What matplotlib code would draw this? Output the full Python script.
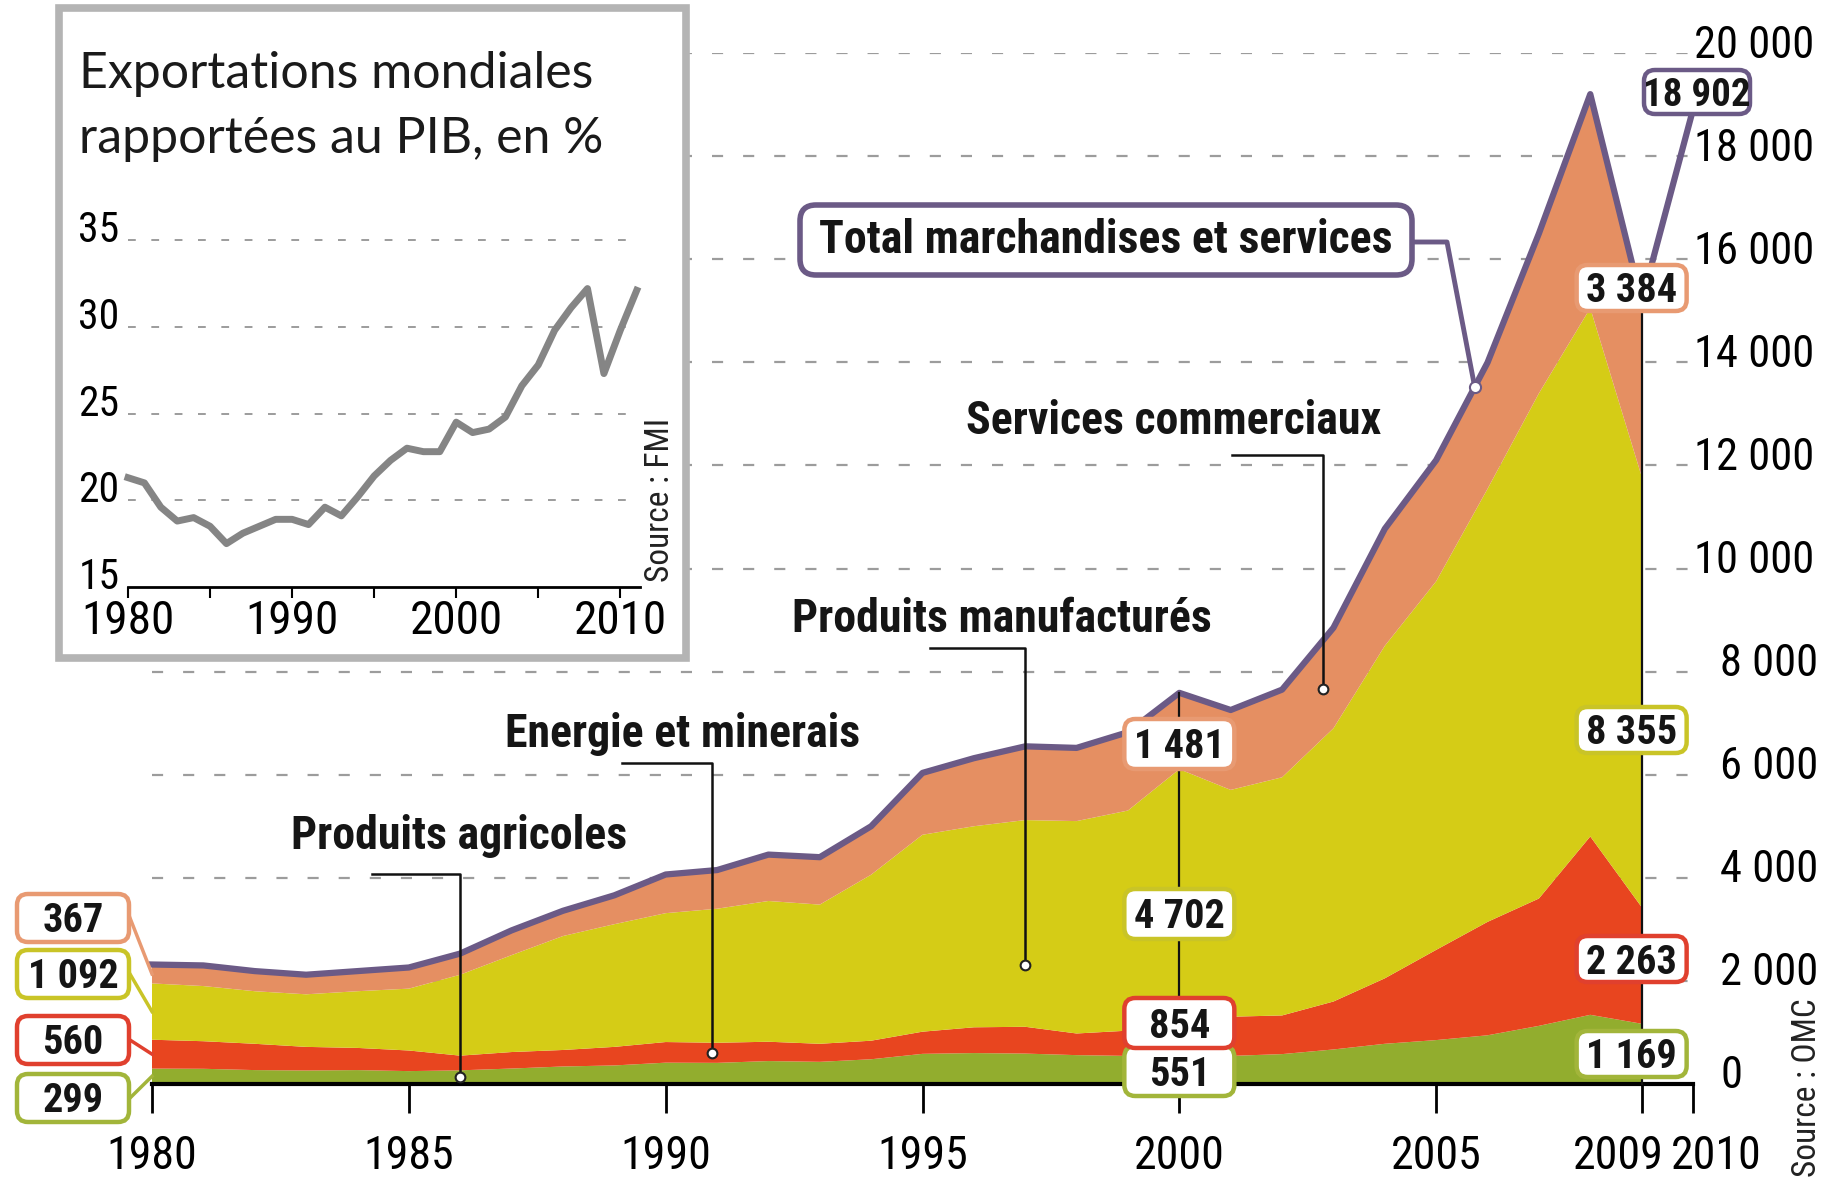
import numpy as np
import matplotlib
matplotlib.use("Agg")
import matplotlib.pyplot as plt
from matplotlib import font_manager as fm
from matplotlib.patches import FancyBboxPatch, Rectangle
from matplotlib.transforms import ScaledTranslation

# ---------------- data ----------------
years = list(range(1980, 2010))
agri = [299, 295, 270, 262, 270, 250, 265, 300, 340, 360, 414, 410, 445, 430, 480,
        585, 600, 590, 560, 545, 551, 545, 580, 670, 780, 852, 945, 1128, 1342, 1169]
energy = [560, 535, 510, 458, 430, 400, 285, 320, 320, 360, 400, 390, 375, 350, 360,
          430, 500, 520, 420, 490, 854, 760, 750, 930, 1270, 1750, 2200, 2470, 3460, 2263]
manu = [1092, 1070, 1020, 1020, 1100, 1200, 1570, 1880, 2210, 2380, 2500, 2600, 2730, 2700, 3220,
        3820, 3900, 4010, 4120, 4270, 4702, 4400, 4620, 5300, 6450, 7150, 8400, 9800, 10250, 8355]
services = [367, 400, 390, 380, 390, 410, 410, 480, 490, 560, 750, 750, 900, 920, 940,
            1200, 1320, 1430, 1420, 1520, 1481, 1550, 1700, 1950, 2270, 2350, 2450, 3100, 4150, 3384]
total_2010 = 18902

x_ticks = [1980, 1985, 1990, 1995, 2000, 2005, 2009, 2010]
y_ticks = list(range(0, 20001, 2000))

pib_years = list(range(1980, 2012))
pib = [21.3, 21.0, 19.6, 18.8, 19.0, 18.5, 17.5, 18.1, 18.5, 18.9, 18.9, 18.6, 19.6, 19.1, 20.2,
       21.4, 22.3, 23.0, 22.8, 22.8, 24.5, 23.9, 24.1, 24.8, 26.6, 27.8, 29.8, 31.1, 32.2, 27.3,
       29.8, 32.1]
pib_yticks = [15, 20, 25, 30, 35]
pib_xlabels = [1980, 1990, 2000, 2010]

# ---------------- fonts ----------------
def pick(cands):
    names = {f.name for f in fm.fontManager.ttflist}
    for c in cands:
        if c in names:
            return c
    return 'DejaVu Sans'

NARROW = pick(['Liberation Sans Narrow', 'Roboto Condensed', 'DejaVu Sans'])
HUMAN = pick(['Lato', 'Open Sans', 'Noto Sans', 'DejaVu Sans'])

W, H = 1822, 1179
fig = plt.figure(figsize=(W / 100, H / 100), dpi=100)
fig.patch.set_facecolor('white')

C_AGRI = '#92ad2e'
C_ENER = '#e8451f'
C_MANU = '#d5cc16'
C_SERV = '#e58f62'
C_TOT = '#6b5a86'
C_GRID = '#9c9c9c'

# ---------------- main axes ----------------
ax = fig.add_axes([152 / W, 1 - 1084 / H, (1693 - 152) / W, (1084 - 53) / H])
ax.set_xlim(1980, 2010)
ax.set_ylim(0, 20000)
for s in ['left', 'right', 'top']:
    ax.spines[s].set_visible(False)
ax.spines['bottom'].set_linewidth(3)
ax.spines['bottom'].set_zorder(6)
ax.set_facecolor('none')

for v in y_ticks[1:]:
    ax.axhline(v, color=C_GRID, lw=1.6, ls=(0, (5, 9)), zorder=0)

ax.stackplot(years, agri, energy, manu, services,
             colors=[C_AGRI, C_ENER, C_MANU, C_SERV], lw=0, zorder=2)
stack_total = np.sum([agri, energy, manu, services], axis=0)
tot_years = years + [2010]
tot_vals = list(stack_total) + [total_2010]
ax.plot(tot_years, tot_vals, color=C_TOT, lw=4.5, zorder=4, solid_joinstyle='round', clip_on=False)

ax.set_xticks(x_ticks)
ax.set_xticklabels([str(t) for t in x_ticks], fontfamily=NARROW, fontsize=33)
ax.tick_params(axis='x', length=21, width=2, pad=15, color='black')
xoff = {2009: -23, 2010: 23}
for lab, t in zip(ax.get_xticklabels(), x_ticks):
    if t in xoff:
        lab.set_transform(lab.get_transform() + ScaledTranslation(xoff[t] / 100, 0, fig.dpi_scale_trans))

ax.yaxis.tick_right()
ax.set_yticks(y_ticks)
ax.set_yticklabels([f"{v:,}".replace(",", " ") for v in y_ticks], fontfamily=NARROW, fontsize=32)
ax.tick_params(axis='y', length=0, pad=1)
for lab, v in zip(ax.get_yticklabels(), y_ticks):
    dx = 0 if v >= 10000 else 26
    lab.set_transform(lab.get_transform() + ScaledTranslation(dx / 100, 12 / 100, fig.dpi_scale_trans))

# ---------------- overlay in pixel coordinates ----------------
ov = fig.add_axes([0, 0, 1, 1])
ov.set_xlim(0, W)
ov.set_ylim(H, 0)
ov.axis('off')
ov.patch.set_alpha(0)

def P(x, y):
    d = ax.transData.transform((x, y))
    return d[0], H - d[1]

# inset frame
ov.add_patch(Rectangle((59, 8), 627, 650, fc='white', ec='#b4b4b4', lw=5.5, zorder=1))

def box(cx, cy, text, ec, w=110, h=48, fs=29, z=8):
    ov.add_patch(FancyBboxPatch((cx - w / 2, cy - h / 2), w, h,
                                boxstyle='round,pad=0,rounding_size=11',
                                fc='white', ec=ec, lw=3.2, zorder=z))
    em = fs * 100 / 72
    ov.text(cx, cy + 0.36 * em, text, ha='center', va='baseline', fontfamily=NARROW,
            fontweight='bold', fontsize=fs, color='#151515', zorder=z + 1)

def fmt(v):
    return f"{v:,}".replace(",", " ")

i80, i00, i09 = 0, years.index(2000), years.index(2009)
layers = [agri, energy, manu, services]
edge_cols = ['#a2b53a', '#e0402e', '#c9c427', '#e89a72']

# left boxes (1980)
left_y = [1098, 1040, 974, 918]
cum = np.zeros(len(years))
for k in range(4):
    mid = cum[i80] + layers[k][i80] / 2
    px, py = P(1980, mid)
    ov.plot([130, px], [left_y[k], py], color=edge_cols[k], lw=2.5, zorder=7)
    box(73, left_y[k], fmt(layers[k][i80]), edge_cols[k], w=112, h=48)
    cum = cum + np.array(layers[k])

# 2000 boxes
x00, ytop00 = P(2000, stack_total[i00])
_, ybase = P(2000, 0)
ov.plot([x00, x00], [ytop00, ybase + 12], color='#111111', lw=1.6, zorder=7)
y00 = [1071, 1023, 914, 744]
for k in range(4):
    box(x00, y00[k], fmt(layers[k][i00]), edge_cols[k], w=110, h=50)

# 2009 boxes
x09, _ = P(2009, 0)
ov.plot([x09, x09], [300, ybase], color='#111111', lw=1.6, zorder=7)
y09 = [1054, 959, 730, 288]
for k in range(4):
    box(x09 - 10, y09[k], fmt(layers[k][i09]), edge_cols[k], w=110, h=46)

box(1697, 92, fmt(total_2010), C_TOT, w=106, h=44, fs=28)

# category labels with leaders
def leader(text, tx, ty, hx0, hy, year, val):
    ov.text(tx, ty, text, ha='center', va='center', fontfamily=NARROW, fontweight='bold',
            fontsize=33, color='#151515', zorder=9)
    px, py = P(year, val)
    ov.plot([hx0, px, px], [hy, hy, py], color='#111111', lw=1.8, zorder=7)
    ov.plot([px], [py], 'o', ms=7, mfc='white', mec='#222222', mew=1.5, zorder=8)

def at(arr, yr):
    return float(np.interp(yr, years, arr))

a = np.array(agri); e = np.array(energy); m = np.array(manu); s = np.array(services)
leader('Produits agricoles', 459, 836, 372, 874, 1986.0, at(a, 1986.0) * 0.5)
leader('Energie et minerais', 683, 734, 622, 763, 1990.9, at(a, 1990.9) + at(e, 1990.9) * 0.5)
leader('Produits manufacturés', 1002, 619, 930, 648, 1997.0, at(a + e, 1997.0) + at(m, 1997.0) * 0.3)
leader('Services commerciaux', 1174, 421, 1232, 455, 2002.8, at(a + e + m, 2002.8) + at(s, 2002.8) * 0.5)

# total label
ov.add_patch(FancyBboxPatch((800, 205), 612, 70, boxstyle='round,pad=0,rounding_size=16',
                            fc='white', ec=C_TOT, lw=4, zorder=8))
ov.text(1106, 240, 'Total marchandises et services', ha='center', va='center', fontfamily=NARROW,
        fontweight='bold', fontsize=33, color='#151515', zorder=9)
tx, ty = P(2005.75, float(np.interp(2005.75, tot_years, tot_vals)))
ov.plot([1412, 1447, tx], [242, 242, ty], color=C_TOT, lw=3.5, zorder=7)
ov.plot([tx], [ty], 'o', ms=8, mfc='white', mec=C_TOT, mew=1.5, zorder=8)

ov.text(1807, 1088, 'Source : OMC', rotation=90, ha='center', va='center', fontfamily=NARROW,
        fontsize=24, color='#222222')
ov.text(660, 500, 'Source : FMI', rotation=90, ha='center', va='center', fontfamily=NARROW,
        fontsize=24, color='#222222')

# inset title
ov.text(79, 88, 'Exportations mondiales', ha='left', va='baseline', fontfamily=HUMAN,
        fontsize=36, color='#1a1a1a')
ov.text(79, 153, 'rapportées au PIB, en %', ha='left', va='baseline', fontfamily=HUMAN,
        fontsize=36, color='#1a1a1a')

# ---------------- inset axes ----------------
ax2 = fig.add_axes([128 / W, 1 - 587 / H, (640 - 128) / W, (587 - 240) / H])
ax2.set_facecolor('none')
ax2.set_xlim(1980, 2011.2)
ax2.set_ylim(15, 35)
for sname in ['left', 'right', 'top']:
    ax2.spines[sname].set_visible(False)
ax2.spines['bottom'].set_linewidth(2)
for v in pib_yticks[1:]:
    ax2.plot([1980, 2011.2], [v, v], color=C_GRID, lw=1.4, ls=(0, (4, 8)), zorder=0, clip_on=False)
ax2.plot(pib_years, pib, color='#858585', lw=5, zorder=3, solid_joinstyle='round', clip_on=False)
ax2.set_xticks(list(range(1980, 2011, 5)))
ax2.set_xticklabels([str(t) if t in pib_xlabels else '' for t in range(1980, 2011, 5)],
                    fontfamily=NARROW, fontsize=34)
ax2.tick_params(axis='x', length=8, width=1.5, pad=1)
ax2.set_yticks(pib_yticks)
ax2.set_yticklabels([str(v) for v in pib_yticks], fontfamily=NARROW, fontsize=30)
ax2.tick_params(axis='y', length=0, pad=6)
for lab in ax2.get_yticklabels():
    lab.set_transform(lab.get_transform() + ScaledTranslation(0, 14 / 100, fig.dpi_scale_trans))

fig.savefig('out.png', dpi=100, facecolor='white')
